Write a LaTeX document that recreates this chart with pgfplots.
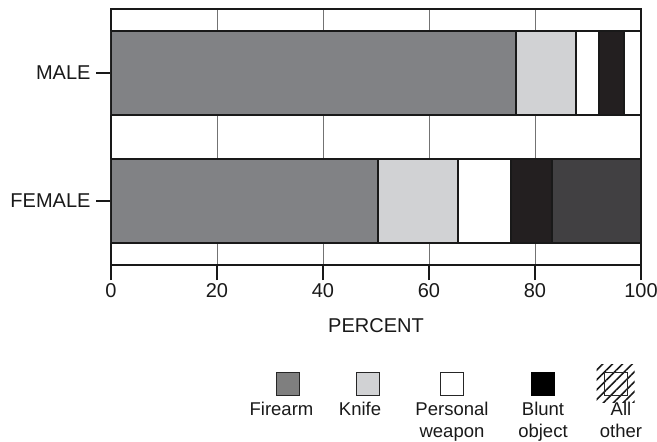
\documentclass[border=0pt]{standalone}
\usepackage{pgfplots}
\pgfplotsset{compat=1.18}
\usepackage{fontspec}
\setmainfont{Liberation Sans}
\usetikzlibrary{patterns.meta}
\definecolor{firearm}{HTML}{818285}
\definecolor{knife}{HTML}{D1D2D4}
\definecolor{blunt}{HTML}{231F20}
\definecolor{other}{HTML}{414042}
\definecolor{lgfire}{HTML}{7F7F7F}
\begin{document}
\begin{tikzpicture}[x=1pt,y=1pt]
\path[use as bounding box] (-111,-177) rectangle (546,265);
\begin{axis}[
  at={(0,0)}, anchor=south west, scale only axis,
  width=530pt, height=256pt,
  xmin=0, xmax=100, ymin=-0.5, ymax=1.5,
  xbar stacked, bar width=0.66,
  ytick={0,1}, yticklabels={FEMALE,MALE},
  xtick={0,20,40,60,80,100},
  xmajorgrids, grid style={black!55, line width=0.7pt},
  axis line style={line width=2.2pt, black!90},
  tick align=outside, xtick pos=bottom, ytick pos=left,
  major tick length=15pt,
  tick style={line width=2pt, black!90},
  ticklabel style={font=\fontsize{20}{24}\selectfont, black!90},
  yticklabel style={xshift=-2pt},
  /pgf/number format/assume math mode=true,
  xlabel={PERCENT},
  xlabel style={font=\fontsize{20}{24}\selectfont, black!90, yshift=-14pt},
  every axis plot/.append style={draw=black!90, line width=2pt},
]
\addplot[fill=firearm] coordinates {(50.4,0) (76.4,1)};
\addplot[fill=knife] coordinates {(15.0,0) (11.3,1)};
\addplot[fill=white] coordinates {(10.0,0) (4.4,1)};
\addplot[fill=blunt] coordinates {(7.9,0) (4.7,1)};
\addplot[fill=other] coordinates {(16.7,0) (0,1)};
\addplot[fill=white] coordinates {(0,0) (3.2,1)};
\end{axis}
% legend
\begin{scope}[every node/.style={font=\fontsize{18.5}{22}\selectfont, black!90}]
\draw[black!85, line width=0.8pt, fill=lgfire] (177-11.5,-118.5-11.5) rectangle ++(23,23);
\draw[black!85, line width=0.8pt, fill=knife] (256.5-11.5,-118.5-11.5) rectangle ++(23,23);
\draw[black!85, line width=0.8pt, fill=white] (341-11.5,-118.5-11.5) rectangle ++(23,23);
\draw[black, line width=0.8pt, fill=black] (431.5-11.5,-118.5-11.5) rectangle ++(23,23);
\fill[pattern={Lines[angle=45,distance=7pt,line width=1.6pt]}, pattern color=black!90] (504.5-19,-118.5-19) rectangle ++(38,38);
\draw[black!85, line width=0.8pt] (504.5-11.5,-118.5-11.5) rectangle ++(23,23);
\node[anchor=base] at (170.5,-150) {Firearm};
\node[anchor=base] at (249,-150) {Knife};
\node[anchor=base] at (341,-150) {Personal};
\node[anchor=base] at (341,-172) {weapon};
\node[anchor=base] at (432,-150) {Blunt};
\node[anchor=base] at (432,-172) {object};
\node[anchor=base] at (510,-150) {All};
\node[anchor=base] at (510,-172) {other};
\end{scope}
\end{tikzpicture}
\end{document}
